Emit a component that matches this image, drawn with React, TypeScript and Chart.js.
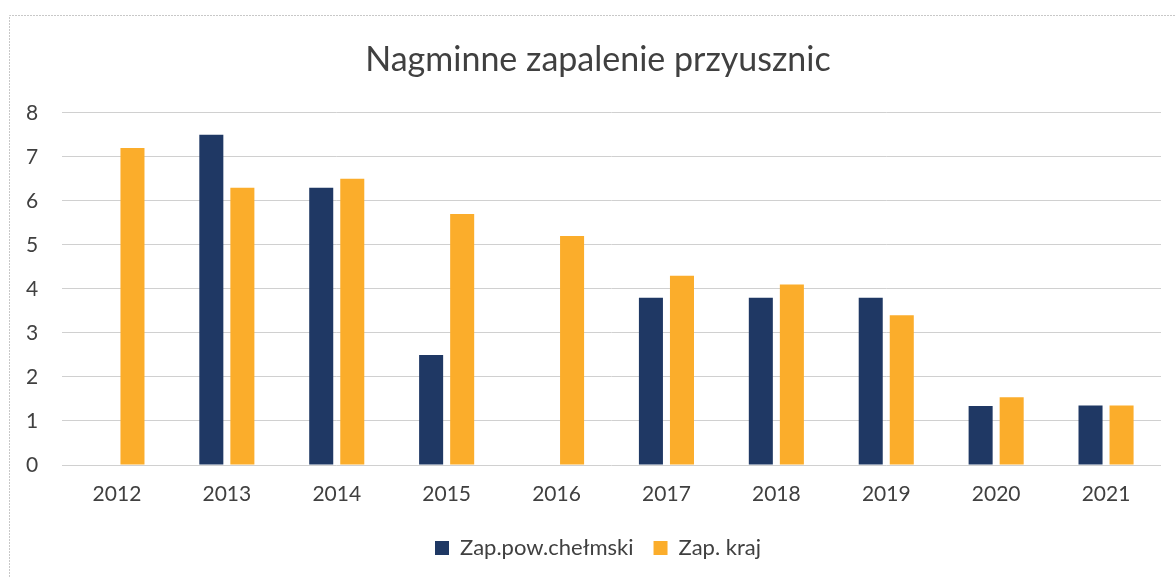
import React, { useEffect, useRef } from "react";
import { Chart, registerables } from "chart.js";

Chart.register(...registerables);

const categories = ["2012", "2013", "2014", "2015", "2016", "2017", "2018", "2019", "2020", "2021"];
const powiatValues = [null, 7.5, 6.3, 2.5, null, 3.8, 3.8, 3.8, 1.34, 1.35];
const krajValues = [7.2, 6.3, 6.5, 5.7, 5.2, 4.3, 4.1, 3.4, 1.54, 1.35];
const seriesNames = ["Zap.pow.chełmski", "Zap. kraj"];
const titleText = "Nagminne zapalenie przyusznic";

const FONT = "Lato, 'Open Sans', sans-serif";
const TEXT = "#404040";

const borderPlugin = {
  id: "outerBorder",
  beforeDraw(chart: any) {
    const ctx = chart.ctx;
    ctx.save();
    ctx.fillStyle = "#ffffff";
    ctx.fillRect(0, 0, chart.width, chart.height);
    ctx.strokeStyle = "#c8c8c8";
    ctx.lineWidth = 1;
    ctx.setLineDash([2, 1]);
    ctx.beginPath();
    ctx.moveTo(9.5, chart.height);
    ctx.lineTo(9.5, 15.5);
    ctx.lineTo(chart.width, 15.5);
    ctx.stroke();
    ctx.restore();
  },
};

export default function App() {
  const ref = useRef<HTMLCanvasElement | null>(null);
  useEffect(() => {
    document.body.style.margin = "0";
    if (!ref.current) return;
    const chart = new Chart(ref.current, {
      type: "bar",
      data: {
        labels: categories,
        datasets: [
          {
            label: seriesNames[0],
            data: powiatValues as any,
            backgroundColor: "#1f3864",
            categoryPercentage: 0.565,
            barPercentage: 0.774,
          },
          {
            label: seriesNames[1],
            data: krajValues,
            backgroundColor: "#fbad2b",
            categoryPercentage: 0.565,
            barPercentage: 0.774,
          },
        ],
      },
      options: {
        animation: false,
        responsive: false,
        maintainAspectRatio: false,
        layout: { padding: { left: 35, right: 15, top: 0, bottom: 8 } },
        plugins: {
          title: {
            display: true,
            text: titleText,
            color: TEXT,
            font: { family: FONT, size: 34, weight: "normal" },
            padding: { top: 40, bottom: 32 },
          },
          legend: {
            position: "bottom",
            labels: {
              color: TEXT,
              font: { family: FONT, size: 22 },
              boxWidth: 14,
              boxHeight: 14,
              padding: 20,
            },
          },
          tooltip: { enabled: false },
        },
        scales: {
          x: {
            grid: { display: false, drawTicks: false },
            border: { display: false },
            ticks: { color: TEXT, font: { family: FONT, size: 21 }, padding: 17 },
            afterFit: (scale: any) => {
              scale.height = 52;
            },
          },
          y: {
            min: 0,
            max: 8,
            ticks: {
              stepSize: 1,
              color: TEXT,
              font: { family: FONT, size: 21 },
              mirror: true,
              padding: -36,
            },
            grid: { color: "#d0d0d0", drawTicks: false },
            border: { display: false },
            afterFit: (scale: any) => {
              scale.width = 27;
            },
          },
        },
      },
      plugins: [borderPlugin],
    });
    return () => chart.destroy();
  }, []);
  return (
    <div style={{ position: "absolute", left: 0, top: 0, width: 1176, height: 577 }}>
      <canvas ref={ref} width={1176} height={577} style={{ width: 1176, height: 577 }} />
    </div>
  );
}
